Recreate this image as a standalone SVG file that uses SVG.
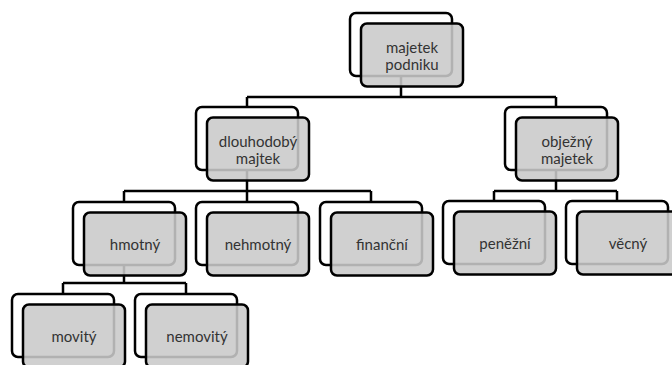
<svg xmlns="http://www.w3.org/2000/svg" width="672" height="365" viewBox="0 0 672 365">
<style>
.bg{fill:#fff}
.back{fill:#fff;stroke:#000;stroke-width:2.5}
.front{fill:#c9c9c9;fill-opacity:0.88;stroke:#000;stroke-width:2.5}
.c{fill:none;stroke:#000;stroke-width:2.5}
text{font-family:Lato,"Liberation Sans",sans-serif;font-size:15px;fill:#333;text-anchor:middle}
</style>
<rect class="bg" x="0" y="0" width="672" height="365"/>
<g id="connectors">
<path class="c" d="M401 76V97M247 97H556M247 97V107M556 97V107"/>
<path class="c" d="M247 170V191M124 191H371M124 191V202M247 191V202M371 191V202"/>
<path class="c" d="M556 170V191M494 191H617M494 191V201M617 191V201"/>
<path class="c" d="M124 265V283M63 283H186M63 283V294M186 283V294"/>
</g>
<g id="n-root">
<rect class="back" x="350" y="13" width="102" height="63" rx="6"/>
<rect class="front" x="361" y="23.5" width="102" height="63" rx="6"/>
<text x="412" y="53">majetek</text><text x="412" y="70">podniku</text>
</g>
<g id="n-dlouhodoby">
<rect class="back" x="196" y="107" width="102" height="63" rx="6"/>
<rect class="front" x="207" y="117.5" width="102" height="63" rx="6"/>
<text x="258" y="147">dlouhodobý</text><text x="258" y="164">majtek</text>
</g>
<g id="n-obezny">
<rect class="back" x="505" y="107" width="102" height="63" rx="6"/>
<rect class="front" x="516" y="117.5" width="102" height="63" rx="6"/>
<text x="567" y="147">obježný</text><text x="567" y="164">majetek</text>
</g>
<g id="n-hmotny">
<rect class="back" x="73" y="202" width="102" height="63" rx="6"/>
<rect class="front" x="84" y="212.5" width="102" height="63" rx="6"/>
<text x="135" y="250">hmotný</text>
</g>
<g id="n-nehmotny">
<rect class="back" x="196" y="202" width="102" height="63" rx="6"/>
<rect class="front" x="207" y="212.5" width="102" height="63" rx="6"/>
<text x="258" y="250">nehmotný</text>
</g>
<g id="n-financni">
<rect class="back" x="320" y="202" width="102" height="63" rx="6"/>
<rect class="front" x="331" y="212.5" width="102" height="63" rx="6"/>
<text x="382" y="250">finanční</text>
</g>
<g id="n-penezni">
<rect class="back" x="443" y="201" width="102" height="63" rx="6"/>
<rect class="front" x="454" y="211.5" width="102" height="63" rx="6"/>
<text x="505" y="249">peněžní</text>
</g>
<g id="n-vecny">
<rect class="back" x="566" y="201" width="102" height="63" rx="6"/>
<rect class="front" x="577" y="211.5" width="102" height="63" rx="6"/>
<text x="628" y="249">věcný</text>
</g>
<g id="n-movity">
<rect class="back" x="12" y="294" width="102" height="63" rx="6"/>
<rect class="front" x="23" y="304.5" width="102" height="63" rx="6"/>
<text x="74" y="342">movitý</text>
</g>
<g id="n-nemovity">
<rect class="back" x="135" y="294" width="102" height="63" rx="6"/>
<rect class="front" x="146" y="304.5" width="102" height="63" rx="6"/>
<text x="197" y="342">nemovitý</text>
</g>
</svg>
